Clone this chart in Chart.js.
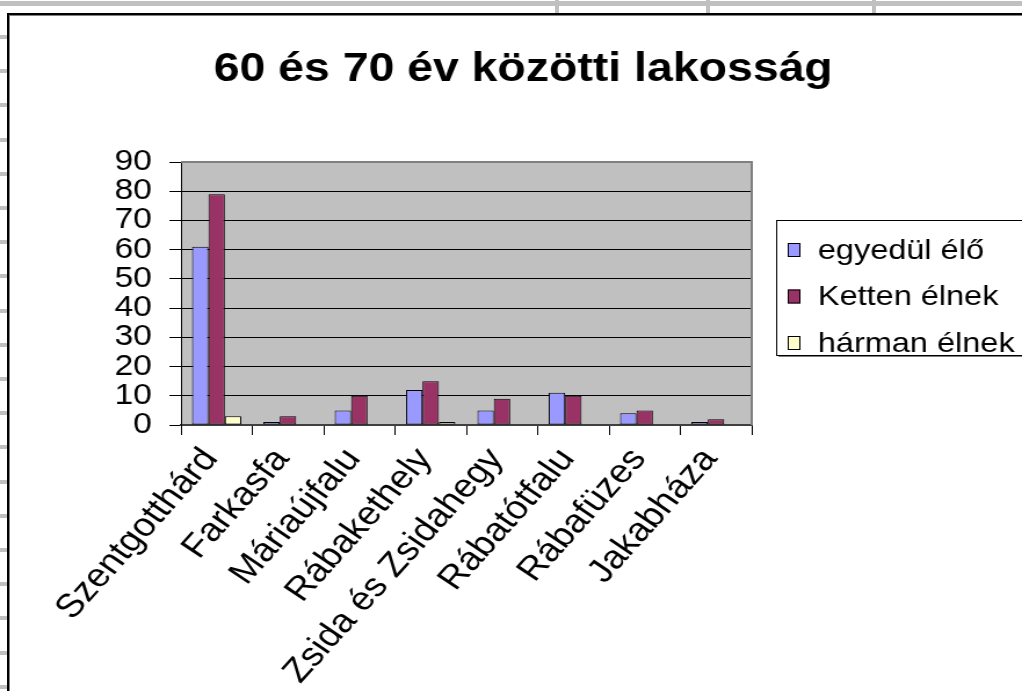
<!DOCTYPE html>
<html>
<head>
<meta charset="utf-8">
<script src="https://cdn.jsdelivr.net/npm/chart.js@4/dist/chart.umd.min.js"></script>
<style>
  html, body { margin: 0; padding: 0; background: #fff; overflow: hidden; }
  body { width: 1022px; height: 691px; position: relative; }
  .sheet { position: absolute; background: #c0c0c0; }
  #frame { position: absolute; left: 7px; top: 13px; width: 1100px; height: 800px;
           border-top: 2px solid #000; border-left: 2px solid #000;
           box-shadow: inset 1px 1px 0 #808080; background: #fff; }
  #chart { position: absolute; left: 0; top: 0; }
</style>
</head>
<body>
<div class="sheet" style="left:0;top:1px;width:1022px;height:5px"></div>
<div class="sheet" style="left:555px;top:0;width:4px;height:13px"></div>
<div class="sheet" style="left:706px;top:0;width:4px;height:13px"></div>
<div class="sheet" style="left:872px;top:0;width:4px;height:13px"></div>
<div id="rows"></div>
<div id="frame"></div>
<canvas id="chart" width="881" height="691" style="width:1022px;height:691px"></canvas>
<script>
// Chart data
const categories = ['Szentgotthárd', 'Farkasfa', 'Máriaújfalu', 'Rábakethely',
    'Zsida és Zsidahegy', 'Rábatótfalu', 'Rábafüzes', 'Jakabháza'];
const egyedulElo = [61, 1, 5, 12, 5, 11, 4, 1];
const kettenElnek = [79, 3, 10, 15, 9, 10, 5, 2];
const harmanElnek = [3, 0, 0, 1, 0, 0, 0, 0];
const yTicks = [0, 10, 20, 30, 40, 50, 60, 70, 80, 90];
const chartTitle = '60 és 70 év közötti lakosság';

// spreadsheet row lines on the left side
const rows = document.getElementById('rows');
for (let y = 35; y < 691; y += 34.2) {
    const d = document.createElement('div');
    d.className = 'sheet';
    d.style.cssText = `left:0;top:${Math.round(y)}px;width:7px;height:4px`;
    rows.appendChild(d);
}

Chart.defaults.font.family = "'Liberation Sans', Arial, sans-serif";
Chart.defaults.color = '#000';

// gray plot background and border
const plotArea = {
    id: 'plotArea',
    beforeDraw(chart) {
        const { ctx, chartArea: a } = chart;
        ctx.save();
        ctx.fillStyle = '#c0c0c0';
        ctx.fillRect(a.left, a.top, a.right - a.left, a.bottom - a.top);
        ctx.restore();
    },
    beforeDatasetsDraw(chart) {
        const { ctx, chartArea: a } = chart;
        ctx.save();
        ctx.strokeStyle = '#808080';
        ctx.lineWidth = 2;
        ctx.beginPath();
        ctx.moveTo(a.left, a.top);
        ctx.lineTo(a.right, a.top);
        ctx.lineTo(a.right, a.bottom);
        ctx.stroke();
        ctx.restore();
    }
};

// title and boxed legend drawn like the spreadsheet chart
const titleAndLegend = {
    id: 'titleAndLegend',
    afterDraw(chart) {
        const ctx = chart.ctx;
        ctx.save();
        ctx.fillStyle = '#000';
        ctx.font = "bold 40px 'Liberation Sans', Arial, sans-serif";
        ctx.textAlign = 'center';
        ctx.textBaseline = 'alphabetic';
        ctx.fillText(chartTitle, 451, 81);

        // legend box
        const bx = 669, by = 220, bw = 260, bh = 135;
        ctx.fillStyle = '#808080';
        ctx.fillRect(bx + 2, by + 2, bw, bh);
        ctx.fillStyle = '#fff';
        ctx.fillRect(bx, by, bw, bh);
        ctx.strokeStyle = '#000';
        ctx.lineWidth = 1;
        ctx.strokeRect(bx + 0.5, by + 0.5, bw, bh);

        ctx.font = "28px 'Liberation Sans', Arial, sans-serif";
        ctx.textAlign = 'left';
        ctx.textBaseline = 'middle';
        chart.data.datasets.forEach((ds, i) => {
            const cy = 250 + i * 46.5;
            ctx.fillStyle = ds.backgroundColor;
            ctx.fillRect(679, cy - 7, 11, 14);
            ctx.strokeStyle = '#000';
            ctx.strokeRect(679.5, cy - 6.5, 10, 13);
            ctx.fillStyle = '#000';
            ctx.fillText(ds.label, 705, cy + 1);
        });
        ctx.restore();
    }
};

const barStyle = {
    borderColor: '#000',
    borderWidth: 1,
    borderSkipped: false,
    barPercentage: 1.0,
    categoryPercentage: 0.69
};

new Chart(document.getElementById('chart').getContext('2d'), {
    type: 'bar',
    data: {
        labels: categories,
        datasets: [
            { label: 'egyedül élő', data: egyedulElo, backgroundColor: '#9999ff', ...barStyle },
            { label: 'Ketten élnek', data: kettenElnek, backgroundColor: '#993366', ...barStyle },
            { label: 'hárman élnek', data: harmanElnek, backgroundColor: '#ffffcc', ...barStyle }
        ]
    },
    options: {
        responsive: false,
        animation: false,
        devicePixelRatio: 1,
        layout: {
            padding: { top: 162, right: 233, left: 0, bottom: 0 }
        },
        plugins: {
            legend: { display: false },
            title: { display: false },
            tooltip: { enabled: false }
        },
        scales: {
            x: {
                afterFit(scale) { scale.height = 266; },
                grid: {
                    offset: true,
                    drawOnChartArea: false,
                    drawTicks: true,
                    tickLength: 10,
                    color: '#000'
                },
                border: { color: '#404040', width: 2 },
                ticks: {
                    autoSkip: false,
                    minRotation: 52,
                    maxRotation: 52,
                    padding: 6,
                    labelOffset: -5,
                    font: { size: 33 }
                }
            },
            y: {
                min: 0,
                max: 90,
                afterFit(scale) { scale.width = 156; },
                afterBuildTicks(scale) {
                    scale.ticks = yTicks.map(v => ({ value: v }));
                },
                grid: {
                    color: '#000',
                    tickLength: 10,
                    lineWidth: 1
                },
                border: { color: '#000', width: 1 },
                ticks: {
                    autoSkip: false,
                    padding: 15,
                    font: { size: 29 }
                }
            }
        }
    },
    plugins: [plotArea, titleAndLegend]
});
</script>
</body>
</html>
